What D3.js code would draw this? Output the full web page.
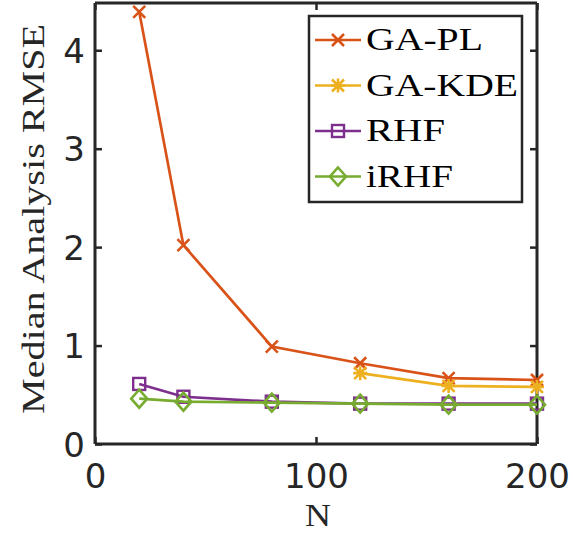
<!DOCTYPE html>
<html><head><meta charset="utf-8">
<script src="https://cdn.jsdelivr.net/npm/d3@7"></script>
<style>body{margin:0;background:#fff}svg{display:block}</style>
</head><body>
<script>
const nValues = [20, 40, 80, 120, 160, 200];
const gaPL   = [4.39, 2.02, 0.99, 0.82, 0.67, 0.65];
const gaKDE  = [null, null, null, 0.72, 0.59, 0.58];
const rhf    = [0.61, 0.48, 0.43, 0.41, 0.41, 0.41];
const irhf   = [0.46, 0.43, 0.42, 0.41, 0.40, 0.40];
const seriesNames = ["GA-PL", "GA-KDE", "RHF", "iRHF"];
const xTicks = [0, 100, 200];
const yTicks = [0, 1, 2, 3, 4];

const W = 573, H = 535;
const M = {l: 95, r: 36, t: 3, b: 91};
const svg = d3.select("body").append("svg").attr("width", W).attr("height", H);
const x = d3.scaleLinear().domain([0, 200]).range([M.l, W - M.r]);
const y = d3.scaleLinear().domain([0, 4.48]).range([H - M.b, M.t]);

const axCol = "#262626";
const legendWidths = [117, 152, 79, 87];
const series = [
  {name: seriesNames[0], vals: gaPL, color: "#D95319", marker: "x"},
  {name: seriesNames[1], vals: gaKDE, color: "#EDB120", marker: "star"},
  {name: seriesNames[2], vals: rhf, color: "#7E2F8E", marker: "square"},
  {name: seriesNames[3], vals: irhf, color: "#77AC30", marker: "diamond"}
];

function drawMarker(g, type, cx, cy, color) {
  const s = 6;
  if (type === "x") {
    g.append("path").attr("d", `M${cx-s},${cy-s}L${cx+s},${cy+s}M${cx-s},${cy+s}L${cx+s},${cy-s}`)
      .attr("stroke", color).attr("stroke-width", 2.6).attr("fill", "none");
  } else if (type === "star") {
    g.append("path").attr("d", `M${cx-s},${cy-s}L${cx+s},${cy+s}M${cx-s},${cy+s}L${cx+s},${cy-s}M${cx-s-1},${cy}L${cx+s+1},${cy}M${cx},${cy-s-1}L${cx},${cy+s+1}`)
      .attr("stroke", color).attr("stroke-width", 2.6).attr("fill", "none");
  } else if (type === "square") {
    g.append("rect").attr("x", cx - 6).attr("y", cy - 6).attr("width", 12).attr("height", 12)
      .attr("stroke", color).attr("stroke-width", 2.4).attr("fill", "none");
  } else if (type === "diamond") {
    g.append("path").attr("d", `M${cx},${cy-9}L${cx+8},${cy}L${cx},${cy+9}L${cx-8},${cy}Z`)
      .attr("stroke", color).attr("stroke-width", 2.6).attr("fill", "none");
  }
}

// axes box with ticks
const gx = svg.append("g").attr("transform", `translate(0,${y(0)})`)
  .call(d3.axisBottom(x).tickValues(xTicks).tickSize(-7).tickPadding(20).tickFormat(d3.format("d")));
const gxTop = svg.append("g").attr("transform", `translate(0,${y.range()[1]})`)
  .call(d3.axisTop(x).tickValues(xTicks).tickSize(-7).tickFormat(""));
const gy = svg.append("g").attr("transform", `translate(${x(0)},0)`)
  .call(d3.axisLeft(y).tickValues(yTicks).tickSize(-7).tickPadding(8).tickFormat(d3.format("d")));
const gyR = svg.append("g").attr("transform", `translate(${x(200)},0)`)
  .call(d3.axisRight(y).tickValues(yTicks).tickSize(-7).tickFormat(""));
[gx, gxTop, gy, gyR].forEach(g => {
  g.selectAll("path.domain").attr("stroke", axCol).attr("stroke-width", 3);
  g.selectAll(".tick line").attr("stroke", axCol).attr("stroke-width", 2.5);
  g.selectAll(".tick text").attr("fill", axCol).style("font-family", "DejaVu Sans")
    .style("font-size", "34px");
});
gx.selectAll("path.domain").attr("d", `M${x(0)},0H${x(200)}`);
gxTop.selectAll("path.domain").attr("d", `M${x(0)},0H${x(200)}`);
gy.selectAll("path.domain").attr("d", `M0,${y(0)}V${y.range()[1]}`);
gyR.selectAll("path.domain").attr("d", `M0,${y(0)}V${y.range()[1]}`);
gx.selectAll(".tick text").attr("dy", "0.71em").attr("y", 20);
gy.selectAll(".tick text").attr("x", -10).attr("dy", "0.36em");

// series
const line = d3.line().defined(d => d[1] !== null).x(d => x(d[0])).y(d => y(d[1]));
series.forEach(s => {
  const pts = nValues.map((n, i) => [n, s.vals[i]]);
  svg.append("path").datum(pts).attr("d", line).attr("fill", "none")
    .attr("stroke", s.color).attr("stroke-width", 2.7);
  const g = svg.append("g");
  pts.filter(p => p[1] !== null).forEach(p => drawMarker(g, s.marker, x(p[0]), y(p[1]), s.color));
});

// legend
const lg = svg.append("g");
lg.append("rect").attr("x", 309).attr("y", 16).attr("width", 213).attr("height", 186)
  .attr("fill", "#fff").attr("stroke", axCol).attr("stroke-width", 2.5);
series.forEach((s, i) => {
  const cy = 40 + i * 45.5;
  lg.append("line").attr("x1", 315).attr("x2", 361).attr("y1", cy).attr("y2", cy)
    .attr("stroke", s.color).attr("stroke-width", 2.7);
  drawMarker(lg, s.marker, 338, cy, s.color);
  lg.append("text").attr("x", 366).attr("y", cy).attr("dy", "0.33em")
    .attr("textLength", legendWidths[i]).attr("lengthAdjust", "spacingAndGlyphs")
    .style("font-family", "Liberation Serif").style("font-size", "31px").attr("fill", "#000")
    .text(s.name);
});

// axis labels
svg.append("text").attr("x", x(100) + 2).attr("y", 526).attr("text-anchor", "middle")
  .attr("textLength", 26).attr("lengthAdjust", "spacingAndGlyphs")
  .style("font-family", "Liberation Serif").style("font-size", "32px").attr("fill", axCol).text("N");
svg.append("text").attr("transform", `translate(33,219) rotate(-90)`).attr("dy", "0.35em")
  .attr("text-anchor", "middle").attr("textLength", 390).attr("lengthAdjust", "spacingAndGlyphs")
  .style("font-family", "Liberation Serif").style("font-size", "31px")
  .attr("fill", axCol).text("Median Analysis RMSE");
</script>
</body></html>
